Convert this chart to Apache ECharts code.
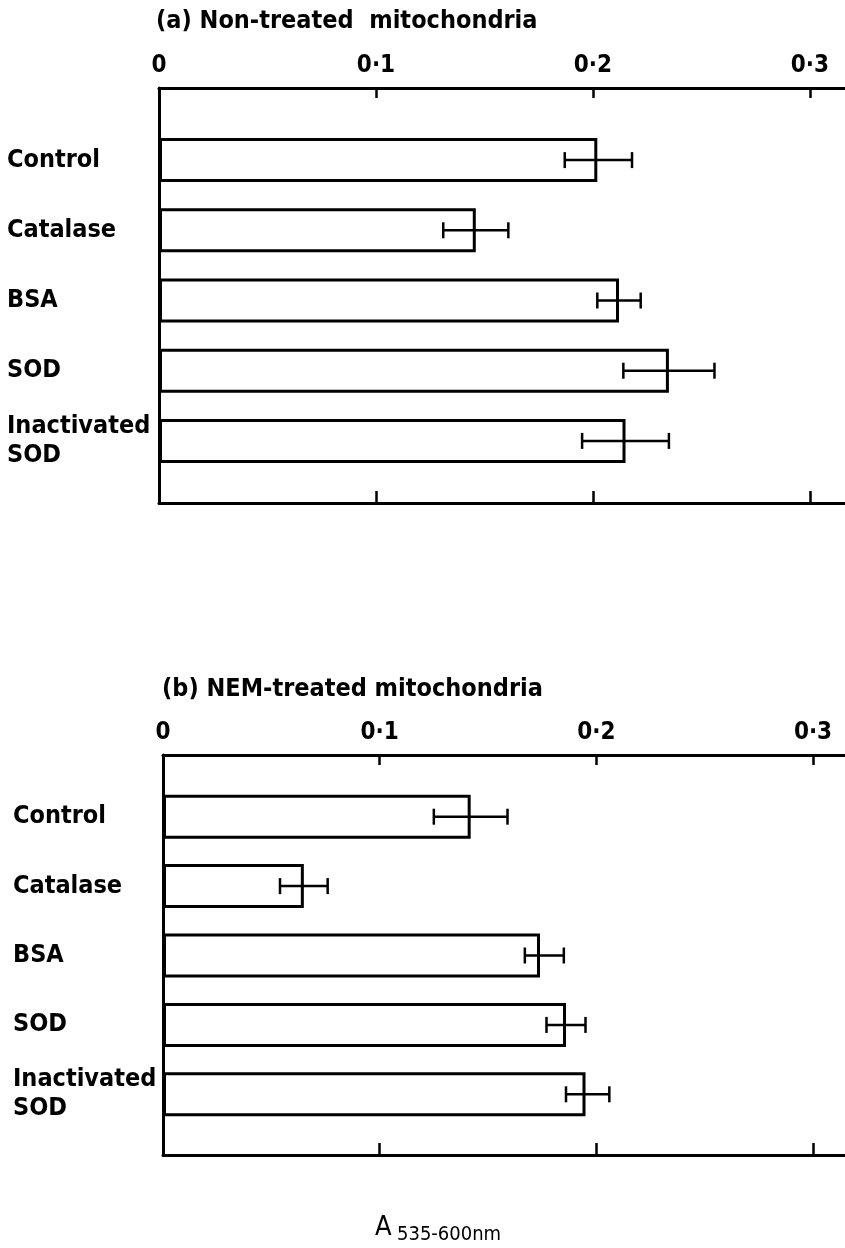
<!DOCTYPE html>
<html>
<head>
<meta charset="utf-8">
<script src="https://cdn.jsdelivr.net/npm/echarts@6/dist/echarts.min.js"></script>
<style>
  html, body { margin: 0; padding: 0; background: #fff; }
  .chart { width: 845px; height: 1248px; }
</style>
</head>
<body>
<div class="chart"></div>
<script>
var categories = ['Control', 'Catalase', 'BSA', 'SOD', 'Inactivated\nSOD'];

// (a) non-treated mitochondria
var nonTreatedMean = [0.202, 0.146, 0.212, 0.235, 0.215];
var nonTreatedLow = [0.187, 0.131, 0.202, 0.214, 0.195];
var nonTreatedHigh = [0.218, 0.161, 0.222, 0.256, 0.235];

// (b) NEM-treated mitochondria
var nemMean = [0.142, 0.065, 0.174, 0.186, 0.195];
var nemLow = [0.125, 0.054, 0.167, 0.177, 0.186];
var nemHigh = [0.159, 0.076, 0.185, 0.195, 0.206];

var axisMin = 0;
var axisMax = 0.318;
var axisStep = 0.1;

(function() {
    var myChart = echarts.init(document.querySelector('.chart'));
    var font = '"DejaVu Sans Condensed", "DejaVu Sans", sans-serif';

    function tickText(v) {
        if (Math.abs(v * 10 - Math.round(v * 10)) > 1e-6) return '';
        if (v === 0) return '0';
        return v.toFixed(1).replace('.', '\u00b7');
    }

    function errRows(low, high) {
        var rows = [];
        for (var i = 0; i < categories.length; i++) rows.push([i, low[i], high[i]]);
        return rows;
    }

    function errRender(params, api) {
        var y = api.value(0);
        var lo = api.coord([api.value(1), y]);
        var hi = api.coord([api.value(2), y]);
        var h = 8;
        var st = { stroke: '#000', lineWidth: 2.5 };
        return {
            type: 'group',
            children: [
                { type: 'line', shape: { x1: lo[0], y1: lo[1], x2: hi[0], y2: hi[1] }, style: st },
                { type: 'line', shape: { x1: lo[0], y1: lo[1] - h, x2: lo[0], y2: lo[1] + h }, style: st },
                { type: 'line', shape: { x1: hi[0], y1: hi[1] - h, x2: hi[0], y2: hi[1] + h }, style: st }
            ]
        };
    }

    var line = { show: true, onZero: false, lineStyle: { color: '#000', width: 3 } };

    // one panel = frame grid (axes) + bar grid (categories)
    function xAxes(frameGrid, barGrid) {
        return [
            {
                gridIndex: frameGrid, type: 'value', position: 'top',
                min: axisMin, max: axisMax, interval: axisStep,
                axisLine: line,
                axisTick: { show: true, inside: true, length: 10, lineStyle: { color: '#000', width: 2.5 } },
                axisLabel: { margin: 10, color: '#000', fontFamily: font, fontWeight: 'bold', fontSize: 24, formatter: tickText },
                splitLine: { show: false }
            },
            {
                gridIndex: frameGrid, type: 'value', position: 'bottom',
                min: axisMin, max: axisMax, interval: axisStep,
                axisLine: line,
                axisTick: { show: true, inside: true, length: 12, lineStyle: { color: '#000', width: 2.5 } },
                axisLabel: { show: false },
                splitLine: { show: false }
            },
            {
                gridIndex: barGrid, type: 'value', show: false,
                min: axisMin, max: axisMax, interval: axisStep
            }
        ];
    }

    function yAxes(frameGrid, barGrid, margin) {
        return [
            {
                gridIndex: frameGrid, type: 'value',
                axisLine: line, axisTick: { show: false },
                axisLabel: { show: false }, splitLine: { show: false }
            },
            {
                gridIndex: barGrid, type: 'category', inverse: true, data: categories,
                axisLine: { show: false }, axisTick: { show: false },
                axisLabel: {
                    align: 'left', margin: margin, color: '#000',
                    fontFamily: font, fontWeight: 'bold', fontSize: 25, lineHeight: 29
                }
            }
        ];
    }

    function panelSeries(mean, low, high, xi, yi) {
        return [
            {
                type: 'bar', xAxisIndex: xi, yAxisIndex: yi,
                data: mean, barWidth: 44, silent: true,
                itemStyle: { color: '#fff', borderColor: '#000', borderWidth: 3 }
            },
            {
                type: 'custom', xAxisIndex: xi, yAxisIndex: yi,
                data: errRows(low, high), renderItem: errRender,
                encode: { x: [1, 2], y: 0 }, silent: true, z: 5
            }
        ];
    }

    var titleStyle = { color: '#000', fontFamily: font, fontSize: 25, fontWeight: 'bold' };

    var option = {
        animation: false,
        backgroundColor: '#fff',
        title: [
            { text: '(a) Non-treated  mitochondria', left: 156, top: 9, padding: 0, textStyle: titleStyle },
            { text: '(b) NEM-treated mitochondria', left: 162, top: 677, padding: 0, textStyle: titleStyle },
            { text: 'A', left: 375, top: 1214, padding: 0,
              textStyle: { color: '#000', fontFamily: font, fontSize: 27, fontWeight: 'normal' } },
            { text: '535-600nm', left: 397, top: 1225, padding: 0,
              textStyle: { color: '#000', fontFamily: font, fontSize: 20, fontWeight: 'normal' } }
        ],
        grid: [
            { left: 159, width: 690, top: 88, height: 415, outerBoundsMode: 'none', containLabel: false },
            { left: 159, width: 690, top: 125, height: 351, outerBoundsMode: 'none', containLabel: false },
            { left: 163, width: 689, top: 755, height: 400, outerBoundsMode: 'none', containLabel: false },
            { left: 163, width: 689, top: 782, height: 347, outerBoundsMode: 'none', containLabel: false }
        ],
        xAxis: xAxes(0, 1).concat(xAxes(2, 3)),
        yAxis: yAxes(0, 1, 152).concat(yAxes(2, 3, 150)),
        series: panelSeries(nonTreatedMean, nonTreatedLow, nonTreatedHigh, 2, 1)
            .concat(panelSeries(nemMean, nemLow, nemHigh, 5, 3))
    };

    myChart.setOption(option);
    window.addEventListener('resize', function() {
        myChart.resize();
    });
})();
</script>
</body>
</html>
